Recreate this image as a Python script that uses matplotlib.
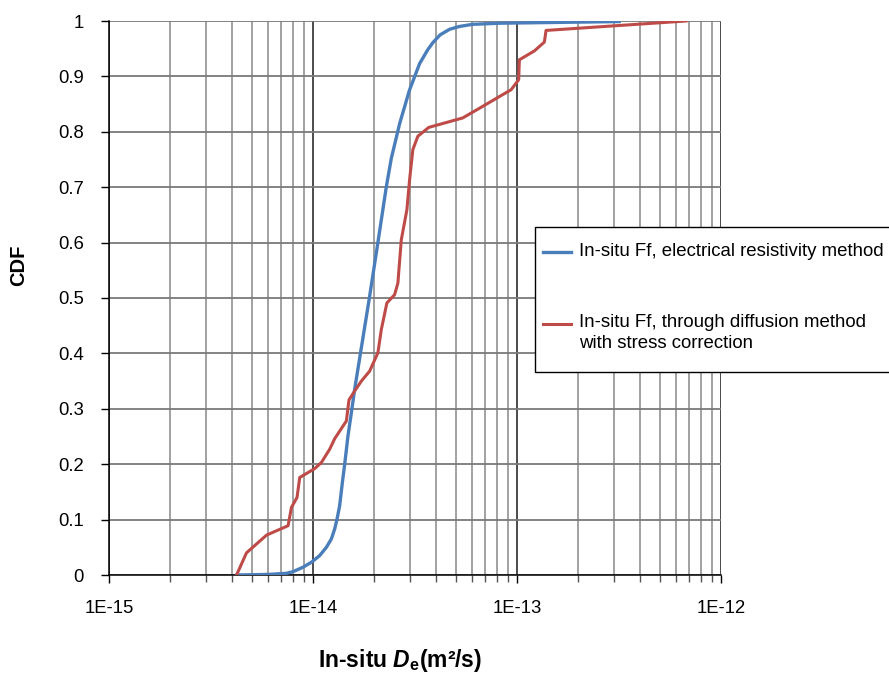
import matplotlib
matplotlib.use("Agg")
import matplotlib.pyplot as plt
from matplotlib.lines import Line2D
from matplotlib.patches import Rectangle
from matplotlib.ticker import LogLocator, FixedLocator, FixedFormatter, NullFormatter

plt.rcParams['font.family'] = ['Liberation Sans', 'DejaVu Sans']
plt.rcParams['mathtext.fontset'] = 'custom'
plt.rcParams['mathtext.rm'] = 'Liberation Sans:bold'
plt.rcParams['mathtext.it'] = 'Liberation Sans:italic:bold'
plt.rcParams['mathtext.bf'] = 'Liberation Sans:bold'

# Electrical resistivity method (blue)
blue_de = [4.23e-15, 6.0e-15, 7.4e-15, 7.98e-15, 8.93e-15, 9.82e-15, 1.078e-14, 1.163e-14,
           1.23e-14, 1.277e-14, 1.31e-14, 1.351e-14, 1.393e-14, 1.43e-14, 1.484e-14,
           1.542e-14, 1.60e-14, 1.895e-14, 2.08e-14, 2.286e-14, 2.42e-14, 2.66e-14,
           2.97e-14, 3.33e-14, 3.65e-14, 3.87e-14, 4.2e-14, 4.67e-14, 5.2e-14, 6.05e-14,
           8.2e-14, 3.17e-13]
blue_cdf = [0.0, 0.001, 0.003, 0.006, 0.014, 0.023, 0.035, 0.05,
            0.065, 0.083, 0.10, 0.125, 0.167, 0.20, 0.251,
            0.293, 0.335, 0.503, 0.60, 0.70, 0.752, 0.815,
            0.875, 0.923, 0.948, 0.961, 0.975, 0.985, 0.990, 0.994,
            0.996, 0.999]

# Through diffusion method with stress correction (red)
red_de = [4.22e-15, 4.72e-15, 5.92e-15, 7.55e-15, 7.84e-15, 8.35e-15, 8.61e-15,
          1.019e-14, 1.099e-14, 1.207e-14, 1.277e-14, 1.457e-14, 1.501e-14, 1.60e-14,
          1.726e-14, 1.895e-14, 2.08e-14, 2.162e-14, 2.302e-14, 2.512e-14, 2.607e-14,
          2.709e-14, 2.885e-14, 2.974e-14, 3.087e-14, 3.266e-14, 3.697e-14, 5.42e-14,
          6.795e-14, 9.36e-14, 1.019e-13, 1.027e-13, 1.217e-13, 1.362e-13, 1.388e-13,
          6.73e-13]
red_cdf = [0.0, 0.04, 0.072, 0.089, 0.122, 0.14, 0.176,
           0.192, 0.203, 0.227, 0.246, 0.278, 0.316, 0.332,
           0.35, 0.368, 0.401, 0.443, 0.491, 0.506, 0.527,
           0.605, 0.659, 0.713, 0.768, 0.792, 0.808, 0.825,
           0.846, 0.876, 0.894, 0.93, 0.946, 0.962, 0.983,
           1.0]

x_ticks = [1e-15, 1e-14, 1e-13, 1e-12]
x_ticklabels = ['1E-15', '1E-14', '1E-13', '1E-12']
y_ticks = [0, 0.1, 0.2, 0.3, 0.4, 0.5, 0.6, 0.7, 0.8, 0.9, 1]
y_ticklabels = ['0', '0.1', '0.2', '0.3', '0.4', '0.5', '0.6', '0.7', '0.8', '0.9', '1']

label_blue = 'In-situ Ff, electrical resistivity method'
label_red = 'In-situ Ff, through diffusion method\nwith stress correction'

W, H = 889, 680
fig = plt.figure(figsize=(W / 100, H / 100), dpi=100)

def fx(px):
    return px / W

def fy(py):
    return 1 - py / H

ax = fig.add_axes([fx(109), fy(575), fx(721) - fx(109), fy(21) - fy(575)])
ax.set_xscale('log')
ax.set_xlim(1e-15, 1e-12)
ax.set_ylim(0, 1)

ax.xaxis.set_major_locator(FixedLocator(x_ticks))
ax.xaxis.set_major_formatter(FixedFormatter(x_ticklabels))
ax.xaxis.set_minor_locator(LogLocator(base=10, subs=range(2, 10), numticks=20))
ax.xaxis.set_minor_formatter(NullFormatter())
ax.set_yticks(y_ticks)
ax.set_yticklabels(y_ticklabels)

ax.grid(which='minor', axis='x', color='#9a9a9a', lw=1.3, zorder=0)
ax.grid(which='major', axis='x', color='#1a1a1a', lw=1.1, zorder=0)
ax.grid(which='major', axis='y', color='#7a7a7a', lw=1.3, zorder=0)
ax.set_axisbelow(True)

for s in ['top', 'right']:
    ax.spines[s].set_visible(False)
for s in ['left', 'bottom']:
    ax.spines[s].set_color('black')
    ax.spines[s].set_linewidth(1.1)

ax.tick_params(axis='x', which='major', direction='out', length=6, width=1.0,
               labelsize=13.3, pad=12, colors='black')
ax.tick_params(axis='x', which='minor', direction='out', length=5, width=1.0, colors='#555555')
ax.tick_params(axis='y', which='major', direction='out', length=6, width=1.0,
               labelsize=13.3, pad=12, colors='black')

ax.plot(blue_de, blue_cdf, color='#4a7ebb', lw=2.4, solid_joinstyle='round', zorder=3)
ax.plot(red_de, red_cdf, color='#be4b48', lw=2.2, solid_joinstyle='round', zorder=3)

# axis titles
fig.text(fx(400), fy(667), 'In-situ $\\mathit{D}_{\\mathrm{e}}$(m²/s)', ha='center', va='baseline',
         fontsize=16.5, fontweight='bold')
fig.text(fx(19), fy(265), 'CDF', ha='center', va='center', rotation=90,
         fontsize=14.5, fontweight='bold')

# legend box (drawn manually)
fig.add_artist(Rectangle((fx(535), fy(372)), fx(900) - fx(535), fy(227) - fy(372),
                         transform=fig.transFigure, facecolor='white', edgecolor='black',
                         lw=1.0, zorder=5))
fig.add_artist(Line2D([fx(543), fx(571)], [fy(252), fy(252)], transform=fig.transFigure,
                      color='#4a7ebb', lw=2.4, zorder=6))
fig.add_artist(Line2D([fx(543), fx(571)], [fy(324), fy(324)], transform=fig.transFigure,
                      color='#be4b48', lw=2.2, zorder=6))
fig.text(fx(579), fy(252), label_blue, ha='left', va='center', fontsize=13.4, zorder=7)
fig.text(fx(579), fy(333), label_red, ha='left', va='center', fontsize=13.4,
         linespacing=1.24, zorder=7)

fig.savefig('out.png', dpi=100)
